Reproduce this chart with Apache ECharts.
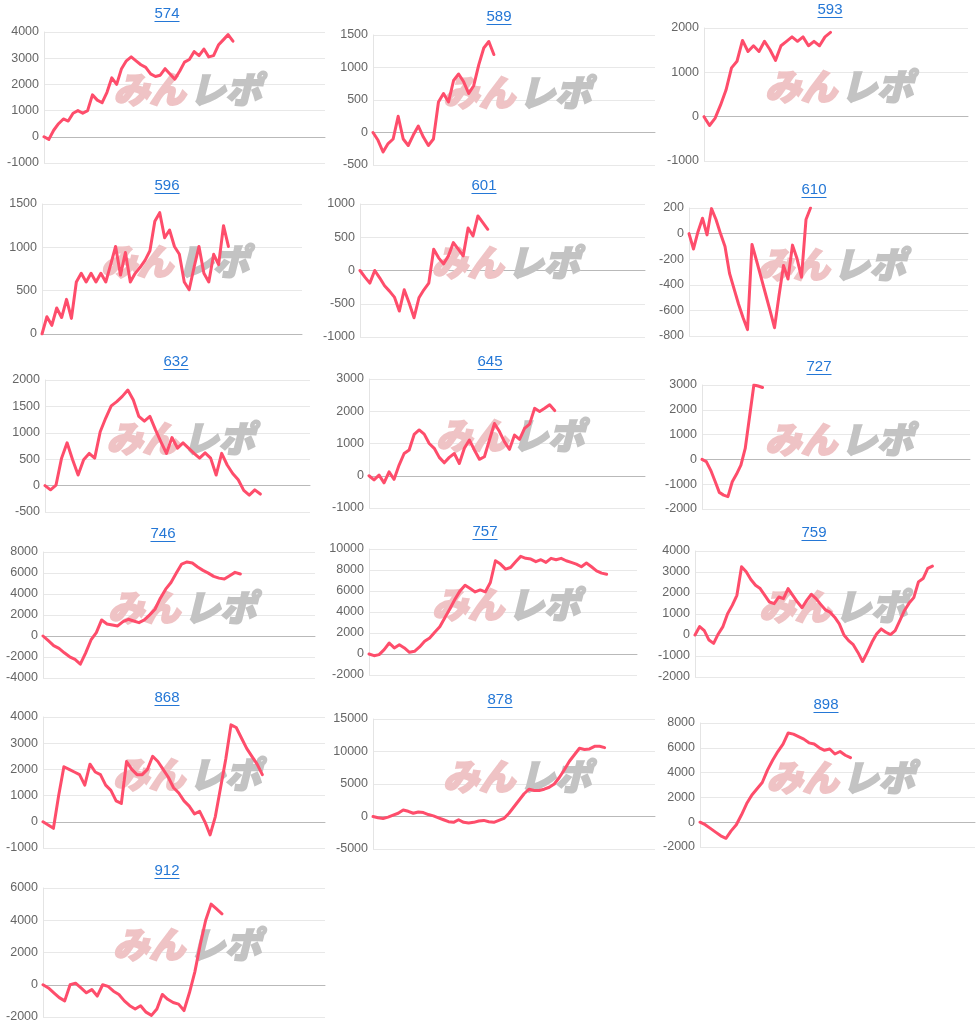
<!DOCTYPE html>
<html>
<head>
<meta charset="utf-8">
<script src="https://cdn.jsdelivr.net/npm/echarts@6/dist/echarts.min.js"></script>
<style>
html, body { margin: 0; padding: 0; background: #fff; }
#main { width: 980px; height: 1028px; }
</style>
</head>
<body>
<div id="main"></div>
<script>
// 台番号
var machineIds = ['574', '589', '593', '596', '601', '610', '632', '645', '727', '746', '757', '759', '868', '878', '898', '912'];

// 差枚推移 (読み取り値)
var pl574 = [0, -100, 250, 500, 680, 600, 900, 1000, 900, 1000, 1600, 1400, 1300, 1700, 2250, 2000, 2600, 2900, 3050, 2900, 2750, 2650, 2400, 2300, 2350, 2600, 2400, 2200, 2500, 2850, 2950, 3250, 3100, 3350, 3050, 3100, 3500, 3700, 3900, 3650];
var pl589 = [0, -120, -300, -170, -100, 250, -100, -200, -40, 100, -70, -200, -100, 470, 600, 470, 800, 900, 780, 600, 720, 1040, 1300, 1400, 1200];
var pl593 = [0, -200, -40, 260, 600, 1100, 1250, 1720, 1470, 1600, 1470, 1700, 1510, 1270, 1600, 1700, 1800, 1700, 1800, 1600, 1700, 1600, 1800, 1900];
var pl596 = [0, 200, 100, 300, 190, 400, 180, 600, 700, 600, 700, 600, 700, 600, 800, 1010, 680, 940, 600, 700, 770, 850, 960, 1300, 1400, 1110, 1200, 1010, 920, 600, 510, 770, 1010, 700, 600, 920, 800, 1250, 1010];
var pl601 = [0, -100, -190, 0, -110, -230, -310, -400, -610, -290, -490, -710, -410, -290, -190, 320, 190, 100, 220, 420, 320, 220, 640, 520, 820, 720, 620];
var pl610 = [0, -120, 15, 120, -10, 195, 110, 0, -100, -310, -430, -550, -655, -750, -85, -210, -340, -470, -600, -735, -485, -250, -355, -90, -195, -340, 110, 200];
var pl632 = [0, -80, 10, 520, 810, 490, 200, 490, 610, 520, 1020, 1280, 1510, 1590, 1690, 1810, 1620, 1310, 1220, 1310, 1060, 830, 610, 910, 710, 810, 710, 610, 520, 620, 520, 200, 610, 390, 230, 110, -90, -180, -80, -160];
var pl645 = [0, -130, 20, -220, 120, -110, 330, 690, 800, 1280, 1420, 1290, 1000, 850, 570, 400, 570, 690, 380, 850, 1110, 800, 510, 590, 1110, 1620, 1370, 1050, 820, 1260, 1130, 1470, 1600, 2090, 1990, 2090, 2200, 2020];
var pl727 = [0, -90, -430, -870, -1330, -1440, -1500, -900, -590, -230, 440, 1720, 3000, 2960, 2900];
var pl746 = [0, -450, -920, -1180, -1600, -1980, -2230, -2680, -1600, -380, 320, 1530, 1150, 1050, 960, 1370, 1590, 1430, 1270, 1530, 2010, 2550, 3600, 4460, 5100, 5990, 6850, 7050, 6950, 6570, 6250, 5990, 5680, 5510, 5420, 5740, 6060, 5900];
var pl757 = [0, -160, -60, 420, 1050, 580, 890, 580, 160, 260, 670, 1210, 1530, 2080, 2590, 3450, 4310, 5210, 6010, 6550, 6230, 5910, 6100, 5910, 6810, 8880, 8560, 8080, 8240, 8790, 9300, 9110, 9040, 8790, 8980, 8720, 9110, 8980, 9110, 8880, 8720, 8560, 8310, 8660, 8310, 7920, 7700, 7600];
var pl759 = [0, 400, 210, -240, -400, 50, 400, 1010, 1410, 1890, 3250, 3010, 2640, 2370, 2210, 1890, 1570, 1490, 1810, 1730, 2210, 1890, 1570, 1300, 1650, 1940, 1730, 1460, 1200, 1090, 850, 530, 0, -270, -460, -830, -1260, -830, -350, 50, 290, 130, 20, 210, 690, 1170, 1520, 1780, 2530, 2690, 3170, 3280];
var pl868 = [0, -120, -250, 1000, 2100, 2000, 1900, 1800, 1400, 2200, 1900, 1800, 1400, 1200, 800, 700, 2300, 2000, 1800, 1800, 2000, 2500, 2300, 2000, 1700, 1300, 1100, 800, 600, 300, 400, 0, -500, 200, 1300, 2400, 3700, 3600, 3200, 2800, 2500, 2200, 1800];
var pl878 = [0, -200, -300, -100, 200, 500, 1000, 800, 500, 700, 600, 300, 100, -200, -500, -800, -900, -500, -900, -1000, -900, -700, -600, -800, -900, -600, -300, 500, 1500, 2500, 3500, 4200, 4000, 4000, 4200, 4500, 5000, 6000, 7200, 8500, 9500, 10500, 10300, 10400, 10800, 10800, 10600];
var pl898 = [0, -200, -500, -800, -1100, -1300, -700, -200, 600, 1500, 2200, 2700, 3200, 4200, 5000, 5700, 6300, 7200, 7100, 6900, 6700, 6400, 6300, 6000, 5800, 5900, 5500, 5700, 5400, 5200];
var pl912 = [0, -200, -500, -800, -1000, 0, 100, -200, -500, -300, -700, 0, -100, -400, -600, -1000, -1300, -1500, -1300, -1700, -1900, -1500, -600, -900, -1100, -1200, -1600, -500, 800, 2500, 4000, 5000, 4700, 4400];

var seriesData = [pl574, pl589, pl593, pl596, pl601, pl610, pl632, pl645, pl727, pl746, pl757, pl759, pl868, pl878, pl898, pl912];

// x軸のカテゴリ数 (営業日の枠)
var dayCounts = [59, 57, 49, 54, 59, 63, 49, 56, 63, 52, 54, 59, 55, 57, 54, 53];

// y軸目盛
var axisMin  = [-1000, -500, -1000, 0, -1000, -800, -500, -1000, -2000, -4000, -2000, -2000, -1000, -5000, -2000, -2000];
var axisMax  = [4000, 1500, 2000, 1500, 1000, 200, 2000, 3000, 3000, 8000, 10000, 4000, 4000, 15000, 8000, 6000];
var axisStep = [1000, 500, 1000, 500, 500, 200, 500, 1000, 1000, 2000, 2000, 1000, 1000, 5000, 2000, 2000];

// レイアウト: [left, top, right, bottom, titleX, titleY]
var boxes = [
  [44, 32, 325, 163, 167, 14],
  [373, 35, 655, 165, 499, 17],
  [704, 28, 968, 161, 830, 10],
  [42, 204, 302, 334, 167, 186],
  [360, 204, 645, 337, 484, 186],
  [689, 208, 968, 336, 814, 190],
  [45, 380, 310, 512, 176, 362],
  [369, 379, 645, 508, 490, 362],
  [702, 385, 970, 509, 819, 367],
  [43, 552, 315, 678, 163, 534],
  [369, 549, 637, 675, 485, 532],
  [695, 551, 965, 677, 814, 533],
  [43, 717, 325, 848, 167, 698],
  [373, 719, 655, 849, 500, 700],
  [700, 723, 975, 847, 826, 705],
  [43, 888, 325, 1017, 167, 871]
];

function dayLabels(n) {
  var out = [];
  for (var d = 1; d <= n; d++) out.push(String(d));
  return out;
}

var measureCtx = document.createElement('canvas').getContext('2d');
var titleFont = '15px "Liberation Sans", Arial, sans-serif';
measureCtx.font = titleFont;
var logoFont = 'italic 900 36px "Noto Sans CJK JP"';

var grids = [], xAxes = [], yAxes = [], series = [], graphics = [];

machineIds.forEach(function (id, i) {
  var b = boxes[i];
  grids.push({ left: b[0], top: b[1], width: b[2] - b[0], height: b[3] - b[1] });
  xAxes.push({
    gridIndex: i,
    type: 'category',
    boundaryGap: false,
    data: dayLabels(dayCounts[i]),
    axisLabel: { show: false },
    axisTick: { show: false },
    axisLine: { show: true, onZero: true, lineStyle: { color: '#b9b9b9', width: 1 } },
    splitLine: { show: false }
  });
  yAxes.push({
    gridIndex: i,
    type: 'value',
    min: axisMin[i],
    max: axisMax[i],
    interval: axisStep[i],
    axisLine: { show: true, lineStyle: { color: '#e4e4e4' } },
    axisTick: { show: false },
    axisLabel: {
      color: '#666', fontSize: 12.5, margin: 5,
      fontFamily: '"Liberation Sans", Arial, sans-serif',
      formatter: function (v) { return String(v); }
    },
    splitLine: { lineStyle: { color: '#e8e8e8' } }
  });
  series.push({
    type: 'line',
    name: id,
    xAxisIndex: i,
    yAxisIndex: i,
    data: seriesData[i],
    symbol: 'none',
    z: 3,
    lineStyle: { color: '#fe4d6b', width: 3, join: 'round', cap: 'round' }
  });

  // 透かしロゴ
  var cx = (b[0] + b[2]) / 2 + 3;
  var cy = (b[1] + b[3]) / 2 - 8;
  graphics.push({
    type: 'text', z: 1, silent: true,
    x: cx - 2, y: cy,
    style: { text: 'みん', fill: '#efc3c5', stroke: '#efc3c5', lineWidth: 2, font: logoFont, align: 'right', verticalAlign: 'middle' }
  });
  graphics.push({
    type: 'text', z: 1, silent: true,
    x: cx + 2, y: cy,
    style: { text: 'レポ', fill: '#c3c3c3', stroke: '#c3c3c3', lineWidth: 2, font: logoFont, align: 'left', verticalAlign: 'middle' }
  });

  // タイトル (リンク風)
  var w = measureCtx.measureText(id).width;
  graphics.push({
    type: 'text', z: 5,
    x: b[4], y: b[5],
    style: { text: id, fill: '#2477d6', font: titleFont, align: 'center', verticalAlign: 'middle' }
  });
  graphics.push({
    type: 'rect', z: 5,
    shape: { x: b[4] - w / 2, y: b[5] + 7, width: w, height: 1 },
    style: { fill: '#2477d6' }
  });
});

var option = {
  animation: false,
  backgroundColor: '#fff',
  grid: grids,
  xAxis: xAxes,
  yAxis: yAxes,
  series: series,
  graphic: graphics
};

var myChart = echarts.init(document.getElementById('main'));
myChart.setOption(option);
</script>
</body>
</html>
